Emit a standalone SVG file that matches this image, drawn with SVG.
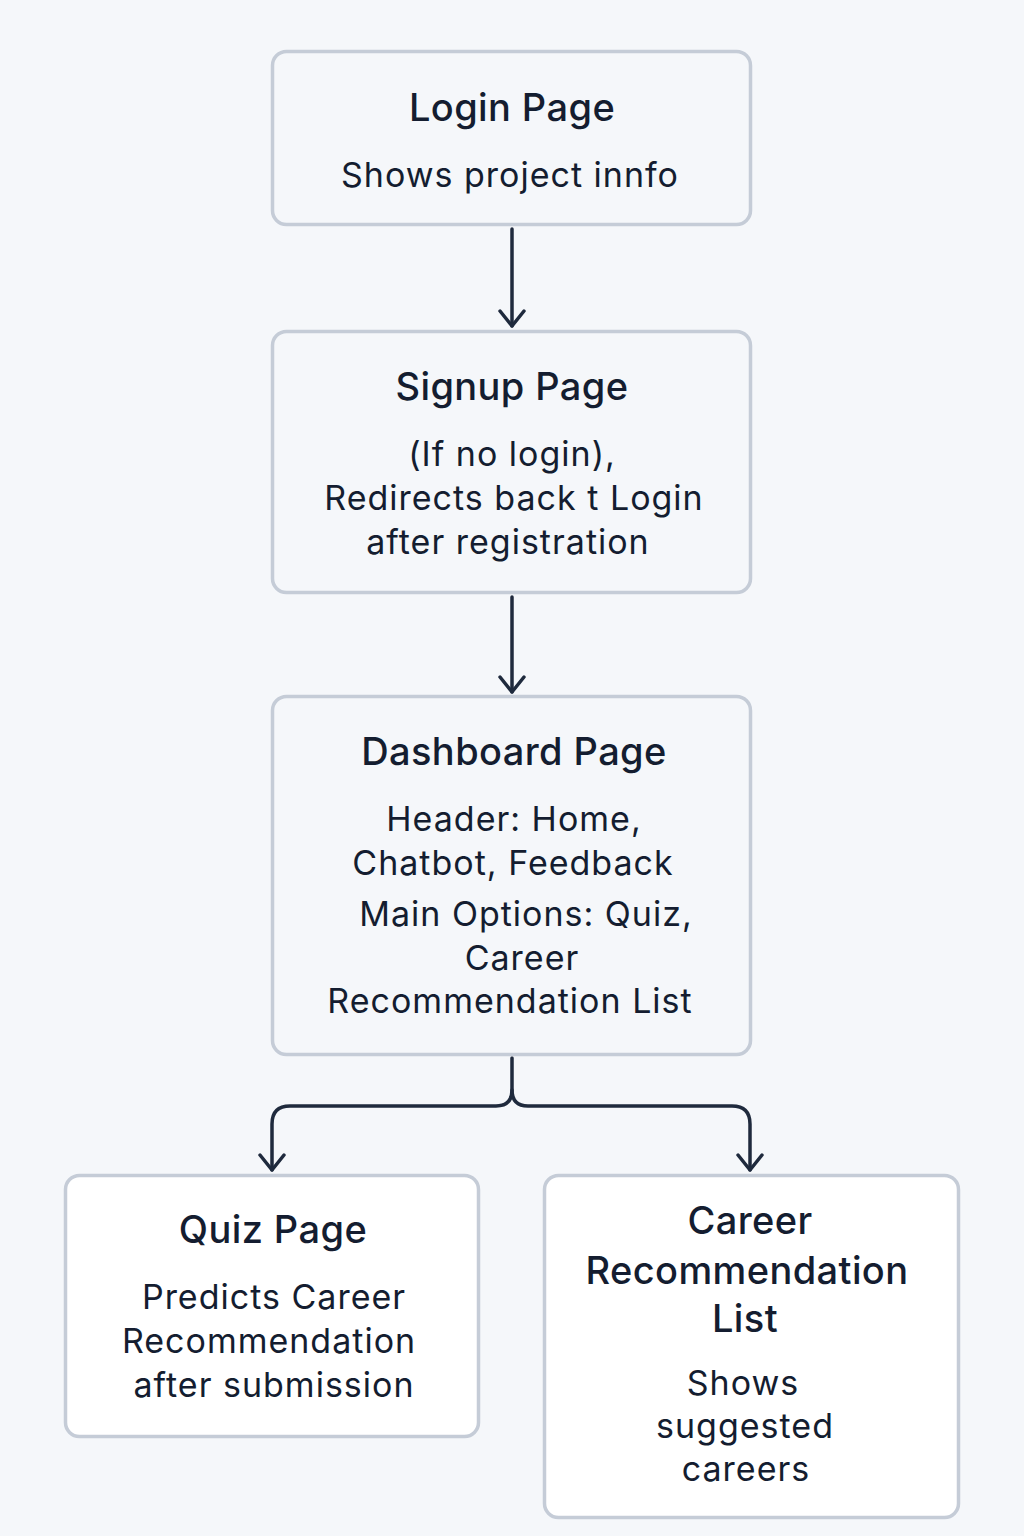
<svg xmlns="http://www.w3.org/2000/svg" width="1024" height="1536" viewBox="0 0 1024 1536">
<style>
.box{stroke:#c5ccd7;stroke-width:3.5}
.top{fill:#f5f7fa}
.bot{fill:#ffffff}
.t{font-family:Inter,"Noto Sans","Liberation Sans",sans-serif;fill:#141d30;text-anchor:middle}
.h{font-size:38px;font-weight:500;letter-spacing:0.4px}
.b{font-size:34px;font-weight:400;letter-spacing:1px}
.c{fill:none;stroke:#1f2a3d;stroke-width:3.5;stroke-linecap:round;stroke-linejoin:round}
</style>
<defs>
<marker id="arr" viewBox="0 0 20 30" refX="18" refY="15" markerWidth="20" markerHeight="30" markerUnits="userSpaceOnUse" orient="auto">
<polyline points="3,3 18,15 3,27" fill="none" stroke="#1f2a3d" stroke-width="3.5" stroke-linecap="round" stroke-linejoin="round"/>
</marker>
</defs>
<rect width="1024" height="1536" fill="#f5f7fa"/>
<g id="connectors">
<path class="c" d="M512 229 V326" marker-end="url(#arr)"/>
<path class="c" d="M512 597 V692" marker-end="url(#arr)"/>
<path class="c" d="M512 1058 V1090 Q512 1106 496 1106 H290 Q272 1106 272 1124 V1170" marker-end="url(#arr)"/>
<path class="c" d="M512 1090 Q512 1106 528 1106 H732 Q750 1106 750 1124 V1170" marker-end="url(#arr)"/>
</g>
<g id="login">
<rect class="box top" x="272.5" y="51.5" width="478" height="173" rx="14"/>
<text class="t h" x="512" y="121">Login Page</text>
<text class="t b" x="510" y="187">Shows project innfo</text>
</g>
<g id="signup">
<rect class="box top" x="272.5" y="331.5" width="478" height="261" rx="14"/>
<text class="t h" x="512" y="400">Signup Page</text>
<text class="t b" x="512" y="466">(If no login),</text>
<text class="t b" x="514" y="510">Redirects back t Login</text>
<text class="t b" x="508" y="554">after registration</text>
</g>
<g id="dashboard">
<rect class="box top" x="272.5" y="696.5" width="478" height="358" rx="14"/>
<text class="t h" x="514" y="765">Dashboard Page</text>
<text class="t b" x="514" y="831">Header: Home,</text>
<text class="t b" x="513" y="875">Chatbot, Feedback</text>
<text class="t b" x="526" y="926">Main Options: Quiz,</text>
<text class="t b" x="522" y="970">Career</text>
<text class="t b" x="510" y="1013">Recommendation List</text>
</g>
<g id="quiz">
<rect class="box bot" x="65.5" y="1175.5" width="413" height="261" rx="14"/>
<text class="t h" x="273" y="1243">Quiz Page</text>
<text class="t b" x="274" y="1309">Predicts Career</text>
<text class="t b" x="269" y="1353">Recommendation</text>
<text class="t b" x="274" y="1397">after submission</text>
</g>
<g id="career">
<rect class="box bot" x="544.5" y="1175.5" width="414" height="342" rx="14"/>
<text class="t h" x="750" y="1234">Career</text>
<text class="t h" x="747" y="1284">Recommendation</text>
<text class="t h" x="745" y="1332">List</text>
<text class="t b" x="743" y="1395">Shows</text>
<text class="t b" x="745" y="1438">suggested</text>
<text class="t b" x="746" y="1481">careers</text>
</g>
</svg>
